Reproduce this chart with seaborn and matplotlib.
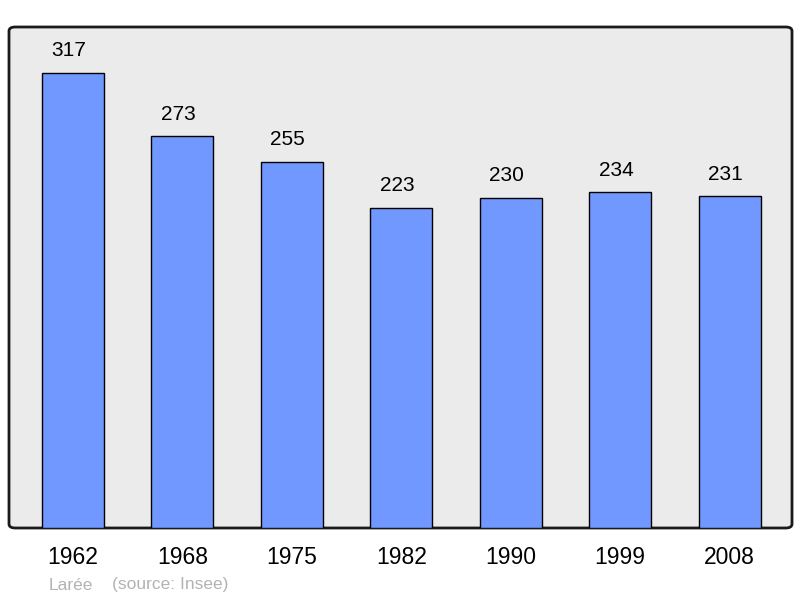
import matplotlib
matplotlib.use('Agg')
import matplotlib.pyplot as plt
import pandas as pd
import seaborn as sns
from matplotlib.patches import FancyBboxPatch

# Data
years = ['1962', '1968', '1975', '1982', '1990', '1999', '2008']
population = [317, 273, 255, 223, 230, 234, 231]
df = pd.DataFrame({'year': years, 'pop': population})

sns.set_style('white')
plt.rcParams['font.family'] = ['Liberation Sans', 'DejaVu Sans']

fig = plt.figure(figsize=(8, 5.98), dpi=100)
ax = fig.add_axes([9 / 800, 70 / 598, 783 / 800, 501 / 598])
ax.set_facecolor('none')

# rounded frame behind the plot
frame = FancyBboxPatch((0, 0), 1, 1, boxstyle='round,pad=0,rounding_size=0.008',
                       transform=ax.transAxes, facecolor='#ebebeb', edgecolor='#1a1a1a',
                       linewidth=2, zorder=0, clip_on=False)
ax.add_patch(frame)

sns.barplot(data=df, x='year', y='pop', ax=ax, color='#7098ff', saturation=1,
            width=0.567, edgecolor='black', linewidth=1, zorder=2)

for i, v in enumerate(population):
    ax.annotate(str(v), (i, v), xytext=(-3, 9), textcoords='offset points',
                ha='center', va='bottom', fontsize=15, color='black')

ax.set_ylim(0, 349)
ax.set_xlim(-0.585, 6.57)
ax.set_yticks([])
ax.set_xlabel('')
ax.set_ylabel('')
ax.tick_params(axis='x', length=0, labelsize=16.5, pad=13, labelcolor='black')
for s in ax.spines.values():
    s.set_visible(False)

fig.text(49 / 800, 1 - 585 / 598, 'Larée', fontsize=12.5, color='#b3b3b3', va='center')
fig.text(112 / 800, 1 - 585 / 598, '(source: Insee)', fontsize=12.5, color='#b3b3b3', va='center')

fig.savefig('out.png', dpi=100)
